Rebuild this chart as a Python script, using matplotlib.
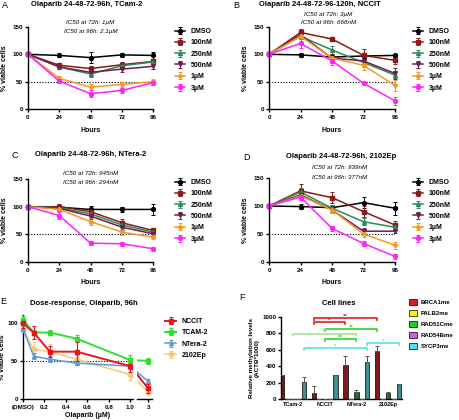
import numpy as np
import matplotlib
matplotlib.use("Agg")
import matplotlib.pyplot as plt
from matplotlib.patches import Patch

# ---- data ----
hours = [0, 24, 48, 72, 96]
doses = ["DMSO", "100nM", "250nM", "500nM", "1\u00b5M", "3\u00b5M"]

tcam2_vals = [[100, 98, 94, 99, 98],
              [100, 80, 74, 81, 87],
              [100, 77, 64, 79, 86],
              [100, 77, 67, 73, 78],
              [100, 56, 40, 45, 50],
              [100, 51, 28, 34, 48]]
tcam2_err = [[0, 3, 10, 4, 7], [0, 3, 4, 5, 3], [0, 4, 6, 5, 4],
             [0, 3, 5, 5, 4], [0, 4, 5, 5, 4], [0, 4, 6, 5, 5]]

nccit_vals = [[100, 99, 95, 97, 98],
              [100, 140, 128, 98, 89],
              [100, 133, 108, 85, 62],
              [100, 136, 93, 88, 65],
              [100, 133, 93, 80, 43],
              [100, 120, 88, 47, 15]]
nccit_err = [[0, 3, 4, 5, 3], [0, 6, 2, 12, 7], [0, 5, 8, 8, 6],
             [0, 5, 8, 6, 10], [0, 5, 6, 8, 10], [0, 8, 8, 2, 7]]

ntera2_vals = [[100, 99, 95, 95, 95],
               [100, 100, 91, 71, 57],
               [100, 98, 87, 67, 54],
               [100, 97, 83, 63, 51],
               [100, 95, 73, 54, 45],
               [100, 84, 34, 33, 24]]
ntera2_err = [[0, 3, 6, 5, 10], [0, 5, 5, 6, 5], [0, 4, 5, 5, 4],
              [0, 4, 5, 5, 4], [0, 4, 6, 6, 4], [0, 7, 4, 4, 3]]

ep2102_vals = [[100, 99, 97, 106, 96],
               [100, 127, 115, 90, 66],
               [100, 125, 96, 72, 62],
               [100, 120, 93, 55, 55],
               [100, 118, 93, 50, 30],
               [100, 116, 60, 33, 10]]
ep2102_err = [[0, 5, 5, 10, 12], [0, 12, 10, 10, 8], [0, 8, 6, 6, 4],
              [0, 8, 6, 6, 4], [0, 6, 6, 5, 6], [0, 6, 5, 5, 4]]

# dose-response at 96h
conc = [0, 0.1, 0.25, 0.5, 1.0, 3]
conc_ticks = [0, 0.2, 0.4, 0.6, 0.8, 1.0, 3]
conc_ticklabels = ["(DMSO)", "0.2", "0.4", "0.6", "0.8", "1.0", "3"]
lines_e = ["NCCIT", "TCAM-2", "NTera-2", "2102Ep"]
dose_vals = [[99, 87, 62, 62, 43, 14],
             [104, 87, 87, 79, 51, 50],
             [92, 56, 52, 47, 43, 23],
             [92, 65, 62, 52, 32, 9]]
dose_err = [[6, 8, 7, 12, 7, 6],
            [5, 3, 3, 5, 7, 4],
            [4, 4, 4, 3, 4, 3],
            [4, 10, 10, 5, 7, 4]]

# methylation
cell_lines = ["TCam-2", "NCCIT", "NTera-2", "2102Ep"]
genes = ["BRCA1me", "PALB2me", "RAD51Cme", "RAD54Bme", "SYCP3me"]
meth_vals = [[290, 70, 420, 590],
             [0, 0, 0, 0],
             [0, 0, 85, 70],
             [0, 0, 0, 0],
             [205, 290, 450, 180]]
meth_err = [[5, 90, 110, 60],
            [0, 0, 0, 0],
            [0, 0, 25, 10],
            [0, 0, 0, 0],
            [60, 5, 80, 5]]
# (group1, gene1, group2, gene2, height, stars)
brackets = [(1, 0, 3, 0, 985, "**"),
            (1, 0, 2, 0, 935, "*"),
            (1, 2, 3, 0, 850, "**"),
            (0, 2, 2, 2, 795, "**"),
            (1, 2, 2, 2, 730, "**"),
            (2, 4, 3, 4, 680, "*"),
            (0, 4, 2, 4, 620, "*")]
bracket_colors = ["#e31a1c", "#e31a1c", "#2fd12f", "#a6e08f", "#2fd12f",
                  "#5fe0e8", "#5fe0e8"]

# ---- style ----
plt.rcParams["font.family"] = ["Liberation Sans", "DejaVu Sans"]
plt.rcParams["font.weight"] = "bold"
plt.rcParams["axes.labelweight"] = "bold"
plt.rcParams["axes.linewidth"] = 1.0
plt.rcParams["xtick.major.width"] = 1.0
plt.rcParams["ytick.major.width"] = 1.0
plt.rcParams["xtick.major.size"] = 2.5
plt.rcParams["ytick.major.size"] = 2.5
plt.rcParams["xtick.labelsize"] = 4.5
plt.rcParams["ytick.labelsize"] = 4.5
plt.rcParams["xtick.major.pad"] = 1.5
plt.rcParams["ytick.major.pad"] = 1.0

W, H = 459, 420
fig = plt.figure(figsize=(W / 100, H / 100), dpi=100)


def rect(x0, y0, x1, y1):
    return [x0 / W, 1 - y1 / H, (x1 - x0) / W, (y1 - y0) / H]


colors = ["black", "#8b1a1a", "#2e8b57", "#6d1f4e", "#f39c1f", "#ff22ff"]
markers = ["o", "s", "^", "v", "D", "o"]


def clean(ax):
    ax.spines["top"].set_visible(False)
    ax.spines["right"].set_visible(False)


def time_panel(ax, vals, errs, title, ic50, tpos, ipos, leg_xy):
    for i in range(len(doses)):
        ax.errorbar(hours, vals[i], yerr=errs[i], color=colors[i],
                    marker=markers[i], ms=2.8 if markers[i] != "D" else 2.2,
                    lw=1.1, elinewidth=0.7, capsize=1.5, capthick=0.7,
                    label=doses[i], clip_on=False)
    ax.axhline(50, color="black", ls=(0, (1, 1.5)), lw=0.8, zorder=0)
    ax.set_xlim(0, 96)
    ax.set_ylim(0, 150)
    ax.set_xticks(hours)
    ax.set_yticks([0, 50, 100, 150])
    clean(ax)
    ax.set_xlabel("Hours", fontsize=5, labelpad=5)
    ax.set_ylabel("% viable cells", fontsize=5, labelpad=3)
    ax.text(tpos[0], tpos[1], title, transform=ax.transAxes, ha="center",
            va="center", fontsize=5.5, weight="bold")
    ax.text(ipos[0], ipos[1], ic50[0], transform=ax.transAxes, ha="center",
            va="center", fontsize=4.5, style="italic", weight="normal")
    ax.text(ipos[0], ipos[2], ic50[1], transform=ax.transAxes, ha="center",
            va="center", fontsize=4.5, style="italic", weight="normal")
    h, l = ax.get_legend_handles_labels()
    fig.legend(h, l, loc="upper left", bbox_to_anchor=(leg_xy[0] / W, 1 - leg_xy[1] / H),
               frameon=False, fontsize=5, borderpad=0, borderaxespad=0,
               handlelength=1.5, handletextpad=0.8, labelspacing=0.62)


axA = fig.add_axes(rect(28, 27, 153, 109))
time_panel(axA, tcam2_vals, tcam2_err, "Olaparib 24-48-72-96h, TCam-2",
           ["IC50 at 72h: 1\u00b5M", "IC50 at 96h: 2.1\u00b5M"],
           (0.47, 1.28), (0.5, 1.05, 0.94), (175, 28))

axB = fig.add_axes(rect(269, 27, 395, 109))
time_panel(axB, nccit_vals, nccit_err, "Olaparib 24-48-72-96-120h, NCCIT",
           ["IC50 at 72h: 3\u00b5M", "IC50 at 96h: 668nM"],
           (0.40, 1.28), (0.47, 1.15, 1.06), (413, 28))

axC = fig.add_axes(rect(28, 179, 153, 262))
time_panel(axC, ntera2_vals, ntera2_err, "Olaparib 24-48-72-96h, NTera-2",
           ["IC50 at 72h: 945nM", "IC50 at 96h: 294nM"],
           (0.5, 1.29), (0.5, 1.07, 0.96), (175, 179))

axD = fig.add_axes(rect(269, 178, 395, 262))
time_panel(axD, ep2102_vals, ep2102_err, "Olaparib 24-48-72-96h, 2102Ep",
           ["IC50 at 72h: 939nM", "IC50 at 96h: 377nM"],
           (0.57, 1.25), (0.56, 1.12, 1.01), (413, 179))


# ---- panel E (broken x axis) ----
def fwd(x):
    x = np.asarray(x, dtype=float)
    return np.where(x <= 1.06, x, 1.06 + (x - 1.06) * 0.055)


def inv(y):
    y = np.asarray(y, dtype=float)
    return np.where(y <= 1.06, y, 1.06 + (y - 1.06) / 0.055)


axE = fig.add_axes(rect(23, 315, 152, 399))
axE.set_xscale("function", functions=(fwd, inv))
e_colors = ["#e8141c", "#33dd33", "#5b9bd5", "#f8c97a"]
e_markers = ["s", "s", "^", "D"]
for i in range(len(lines_e)):
    axE.errorbar(conc, dose_vals[i], yerr=dose_err[i], color=e_colors[i],
                 marker=e_markers[i], ms=2.8, lw=1.4 if i < 2 else 1.1,
                 elinewidth=0.8, capsize=1.5, capthick=0.8,
                 label=lines_e[i], clip_on=False, zorder=3 - i * 0.1)
axE.plot([0, 1.0], [50, 50], color="black", ls=(0, (1, 1.5)), lw=0.8, zorder=1)
axE.set_xlim(0, 3.65)
axE.set_ylim(0, 110)
axE.set_xticks(conc_ticks)
axE.set_xticklabels(conc_ticklabels)
axE.set_yticks([0, 50, 100])
clean(axE)
axE.spines["bottom"].set_bounds(0, 1.03)
axE.axvspan(1.03, 1.062, color="white", zorder=5, lw=0)
axE.plot([1.062, 3.65], [0, 0], color="black", lw=1.0, clip_on=False, zorder=6)
axE.set_xlabel("Olaparib (\u00b5M)", fontsize=5, labelpad=2)
axE.set_ylabel("% viable cells", fontsize=5, labelpad=1)
axE.text(0.47, 1.14, "Dose-response, Olaparib, 96h", transform=axE.transAxes,
         ha="center", va="center", fontsize=5.5, weight="bold")
h, l = axE.get_legend_handles_labels()
fig.legend(h, l, loc="upper left", bbox_to_anchor=(165 / W, 1 - 318 / H),
           frameon=False, fontsize=5, borderpad=0, borderaxespad=0,
           handlelength=1.6, handletextpad=0.8, labelspacing=0.62)

# ---- panel F ----
axF = fig.add_axes(rect(281, 317, 402, 399))
bar_colors = ["#7a1c1c", "#c9c900", "#2f6b2f", "#b040b0", "#3f8f8f"]
leg_colors = ["#e31a1c", "#f5f500", "#22cc22", "#e455e4", "#4fe3e3"]
w = 0.172
x = np.arange(len(cell_lines))
for j in range(len(genes)):
    pos = x + (j - 2) * w
    axF.bar(pos, meth_vals[j], width=w * 0.8, color=bar_colors[j],
            edgecolor="black", lw=0.5, zorder=2)
    axF.errorbar(pos, meth_vals[j], yerr=[np.zeros(4), meth_err[j]], fmt="none",
                 ecolor="#555555", elinewidth=0.7, capsize=1.2, capthick=0.7,
                 zorder=3)
for (g1, s1, g2, s2, yb, st), bc in zip(brackets, bracket_colors):
    x1 = g1 + (s1 - 2) * w
    x2 = g2 + (s2 - 2) * w
    axF.plot([x1, x1, x2, x2], [yb - 18, yb, yb, yb - 18], color=bc, lw=1.2,
             clip_on=False)
    axF.text((x1 + x2) / 2, yb - 5, st, color=bc, ha="center", va="bottom",
             fontsize=4.5, weight="bold")
axF.set_xlim(-0.38, 3.44)
axF.set_ylim(0, 1000)
axF.set_yticks([0, 200, 400, 600, 800, 1000])
axF.set_xticks(x)
axF.set_xticklabels(cell_lines, fontsize=4)
axF.tick_params(axis="x", length=0, pad=2.5)
clean(axF)
axF.set_ylabel("Relative methylation levels\n(ACTB*1000)", fontsize=4.5,
               labelpad=2, linespacing=1.1)
axF.text(0.48, 1.17, "Cell lines", transform=axF.transAxes, ha="center",
         va="center", fontsize=5.5, weight="bold")
f_handles = [Patch(facecolor=c, edgecolor="black", lw=0.5) for c in leg_colors]
fig.legend(f_handles, genes, loc="upper left", bbox_to_anchor=(409 / W, 1 - 299 / H),
           frameon=False, fontsize=4.3, borderpad=0, borderaxespad=0,
           handlelength=1.4, handleheight=1.1, handletextpad=0.6,
           labelspacing=0.85)

# panel letters
for letter, (lx, ly) in zip("ABCDEF", [(5, 5), (236, 5), (15, 155), (247, 157),
                                       (3, 302), (242, 297)]):
    fig.text(lx / W, 1 - ly / H, letter, fontsize=6.5, weight="normal",
             ha="center", va="center")

fig.savefig("out.png", dpi=100)
